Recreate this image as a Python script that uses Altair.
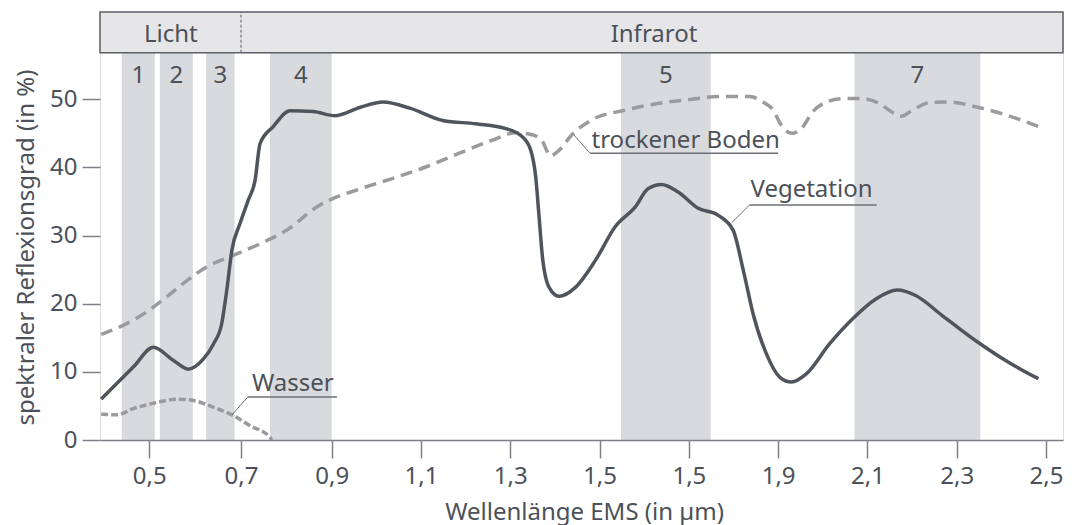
import altair as alt
import pandas as pd

# ---------------- data ----------------
x_ticks = [0.5, 0.7, 0.9, 1.1, 1.3, 1.5, 1.7, 1.9, 2.1, 2.3, 2.5]
x_tick_labels = ["0,5", "0,7", "0,9", "1,1", "1,3", "1,5", "1,5", "1,9", "2,1", "2,3", "2,5"]
y_ticks = [0, 10, 20, 30, 40, 50]

band_labels = ["1", "2", "3", "4", "5", "7"]
band_start = [0.440, 0.523, 0.624, 0.764, 1.548, 2.071]
band_end = [0.512, 0.595, 0.686, 0.900, 1.749, 2.353]

header_labels = ["Licht", "Infrarot"]
header_start = [0.3925, 0.7]
header_end = [0.7, 2.5381]
header_label_x = [0.547, 1.622]

veg_x = [0.395, 0.465, 0.509, 0.552, 0.585, 0.618, 0.640, 0.658, 0.669, 0.680,
         0.698, 0.716, 0.731, 0.742, 0.771, 0.808, 0.859, 0.907, 0.963, 1.015,
         1.075, 1.149, 1.223, 1.290, 1.327, 1.346, 1.357, 1.364, 1.372, 1.387,
         1.409, 1.446, 1.491, 1.535, 1.580, 1.609, 1.639, 1.676, 1.721, 1.765,
         1.799, 1.822, 1.844, 1.874, 1.904, 1.930, 1.963, 2.015, 2.067, 2.119,
         2.167, 2.208, 2.267, 2.342, 2.416, 2.483]
veg_y = [6.0, 10.7, 13.6, 11.7, 10.4, 11.9, 14.1, 17.1, 22.0, 27.8,
         31.8, 35.2, 38.1, 43.5, 46.0, 48.3, 48.2, 47.6, 48.8, 49.6,
         48.7, 46.9, 46.4, 45.7, 44.5, 42.5, 38.6, 33.2, 26.9, 22.4,
         21.1, 22.4, 26.4, 31.3, 34.2, 36.9, 37.5, 36.4, 34.0, 33.0,
         30.8, 24.9, 18.5, 12.6, 9.2, 8.5, 9.7, 14.1, 17.8, 20.7,
         22.0, 21.2, 18.3, 14.6, 11.4, 9.0]

boden_x = [0.395, 0.436, 0.494, 0.538, 0.582, 0.625, 0.683, 0.742, 0.801, 0.867,
           0.970, 1.037, 1.112, 1.186, 1.260, 1.312, 1.349, 1.372, 1.390, 1.409,
           1.438, 1.483, 1.557, 1.632, 1.706, 1.765, 1.837, 1.866, 1.889, 1.907,
           1.930, 1.952, 1.978, 2.008, 2.045, 2.089, 2.126, 2.153, 2.175, 2.201,
           2.238, 2.282, 2.342, 2.401, 2.483]
boden_y = [15.5, 16.6, 18.8, 21.0, 23.4, 25.4, 27.1, 28.8, 30.8, 34.2,
           37.0, 38.4, 40.1, 42.1, 44.0, 45.1, 44.8, 43.8, 41.7, 42.5,
           44.8, 47.0, 48.4, 49.4, 50.0, 50.4, 50.4, 49.6, 48.4, 46.2,
           45.0, 45.7, 48.2, 49.6, 50.1, 50.1, 49.4, 48.2, 47.5, 48.4,
           49.5, 49.6, 48.9, 47.9, 46.0]

wasser_x = [0.395, 0.429, 0.465, 0.516, 0.560, 0.596, 0.640, 0.683, 0.720, 0.764, 0.768]
wasser_y = [3.8, 3.7, 4.6, 5.5, 6.0, 5.8, 4.8, 3.6, 2.1, 0.4, 0.0]

ann_text = ["Wasser", "trockener Boden", "Vegetation"]
ann_text_x = [0.724, 1.482, 1.838]
ann_text_y = [7.24, 42.85, 35.71]
ann_line_x1 = [0.715, 1.479, 1.836]
ann_line_x2 = [0.912, 1.900, 2.121]
ann_line_y = [6.31, 42.07, 34.49]
ann_point_x = [0.680, 1.442, 1.796]
ann_point_y = [3.67, 44.80, 31.89]

# ---------------- styling ----------------
TEXT = "#4c5159"
FRAME = "#5b5f66"
AXIS_GRAY = "#7d8187"
BAND = "#d9dadd"
HEADER = "#e6e6e8"
VEG = "#50555d"
DASH = "#9a9a9f"
LEADER = "#6b6f75"
FONT = "Noto Sans"
FS = 24

Y_MAX = 62.81
HEADER_BOTTOM = 56.84
BAND_LABEL_Y = 52.35
HEADER_LABEL_Y = 58.37

PLOT_W = 963
xscale = alt.Scale(domain=[header_start[0], 0.5, 0.7, 0.9, 2.5, header_end[-1]],
                   range=[0, 49.3, 141, 231.7, 946, PLOT_W], nice=False, zero=False)
yscale = alt.Scale(domain=[0, Y_MAX], nice=False, zero=False)

label_expr = ("[" + ",".join(f"'{l}'" for l in x_tick_labels) + "]"
              + "[indexof([" + ",".join(str(v) for v in x_ticks) + "], datum.value)]")

x_axis = alt.Axis(values=x_ticks, labelExpr=label_expr, title="Wellenlänge EMS (in µm)",
                  tickSize=18, tickColor=AXIS_GRAY, tickWidth=1.5,
                  domainColor=AXIS_GRAY, domainWidth=1.5,
                  labelFontSize=FS, labelColor=TEXT, labelFont=FONT,
                  labelPadding=25, labelBaseline="alphabetic",
                  labelFlush=False, labelOverlap=False,
                  titleFontSize=FS, titleFontWeight="normal", titleColor=TEXT, titleFont=FONT,
                  titleX=484, titleY=79, titleBaseline="alphabetic", grid=False, zindex=1)
y_axis = alt.Axis(values=y_ticks, title="spektraler Reflexionsgrad (in %)",
                  tickSize=18, tickColor=AXIS_GRAY, tickWidth=1.5, domain=False,
                  labelFontSize=FS, labelColor=TEXT, labelFont=FONT, labelPadding=5,
                  titleFontSize=FS, titleFontWeight="normal", titleColor=TEXT, titleFont=FONT,
                  titleX=-67, titleY=235, titleAngle=270, titleAlign="center",
                  titleBaseline="alphabetic", grid=False)


def X(f="x"):
    return alt.X(f, type="quantitative", scale=xscale, axis=x_axis)


def Y(f="y"):
    return alt.Y(f, type="quantitative", scale=yscale, axis=y_axis)


bands_df = pd.DataFrame({"x": band_start, "x2": band_end, "y": 0.0, "y2": HEADER_BOTTOM,
                         "label": band_labels,
                         "xm": [(a + b) / 2 for a, b in zip(band_start, band_end)],
                         "ly": BAND_LABEL_Y})
header_df = pd.DataFrame({"x": [header_start[0]], "x2": [header_end[-1]],
                          "y": [HEADER_BOTTOM], "y2": [Y_MAX]})
divider_df = pd.DataFrame({"x": [header_end[0]], "y": [HEADER_BOTTOM], "y2": [Y_MAX]})
header_text_df = pd.DataFrame({"x": header_label_x, "y": HEADER_LABEL_Y, "label": header_labels})
veg_df = pd.DataFrame({"x": veg_x, "y": veg_y})
boden_df = pd.DataFrame({"x": boden_x, "y": boden_y})
wasser_df = pd.DataFrame({"x": wasser_x, "y": wasser_y})
ann_df = pd.DataFrame({"label": ann_text, "tx": ann_text_x, "ty": ann_text_y,
                       "x": ann_line_x1, "x2": ann_line_x2, "y": ann_line_y,
                       "px": ann_point_x, "py": ann_point_y})

bands = alt.Chart(bands_df).mark_rect(color=BAND).encode(x=X(), x2="x2", y=Y(), y2="y2")
band_text = alt.Chart(bands_df).mark_text(fontSize=FS, font=FONT, color=TEXT,
                                          baseline="alphabetic", align="center").encode(
    x=X("xm"), y=Y("ly"), text="label")
header = alt.Chart(header_df).mark_rect(fill=HEADER, stroke=FRAME, strokeWidth=1.5).encode(
    x=X(), x2="x2", y=Y(), y2="y2")
divider = alt.Chart(divider_df).mark_rule(color=FRAME, strokeWidth=1, strokeDash=[3, 2]).encode(
    x=X(), y=Y(), y2="y2")
header_text = alt.Chart(header_text_df).mark_text(fontSize=FS, font=FONT, color=TEXT,
                                                  baseline="alphabetic", align="center").encode(
    x=X(), y=Y(), text="label")

wasser = alt.Chart(wasser_df).mark_line(color=DASH, strokeWidth=3.5, strokeDash=[7, 3],
                                        interpolate="monotone").encode(x=X(), y=Y())
boden = alt.Chart(boden_df).mark_line(color=DASH, strokeWidth=3.5, strokeDash=[12, 7],
                                      interpolate="monotone").encode(x=X(), y=Y())
veg = alt.Chart(veg_df).mark_line(color=VEG, strokeWidth=3.5,
                                  interpolate="monotone").encode(x=X(), y=Y())

underline = alt.Chart(ann_df).mark_rule(color=LEADER, strokeWidth=1.5).encode(
    x=X(), x2="x2", y=Y())
leader = alt.Chart(ann_df).mark_rule(color=LEADER, strokeWidth=1).encode(
    x=X(), x2=alt.X2("px"), y=Y(), y2=alt.Y2("py"))
ann_label = alt.Chart(ann_df).mark_text(fontSize=FS, font=FONT, color=TEXT,
                                        baseline="alphabetic", align="left").encode(
    x=X("tx"), y=Y("ty"), text="label")

chart = alt.layer(
    bands, header, divider, header_text, band_text,
    wasser, boden, veg, underline, leader, ann_label
).properties(
    width=PLOT_W, height=428,
    autosize=alt.AutoSizeParams(type="none"),
    padding={"left": 92, "top": 4, "right": 1, "bottom": 85},
).configure_view(
    stroke=FRAME, strokeWidth=1.5
).configure(font=FONT)

chart.save("out.html", embed_options={"renderer": "svg", "actions": False})
